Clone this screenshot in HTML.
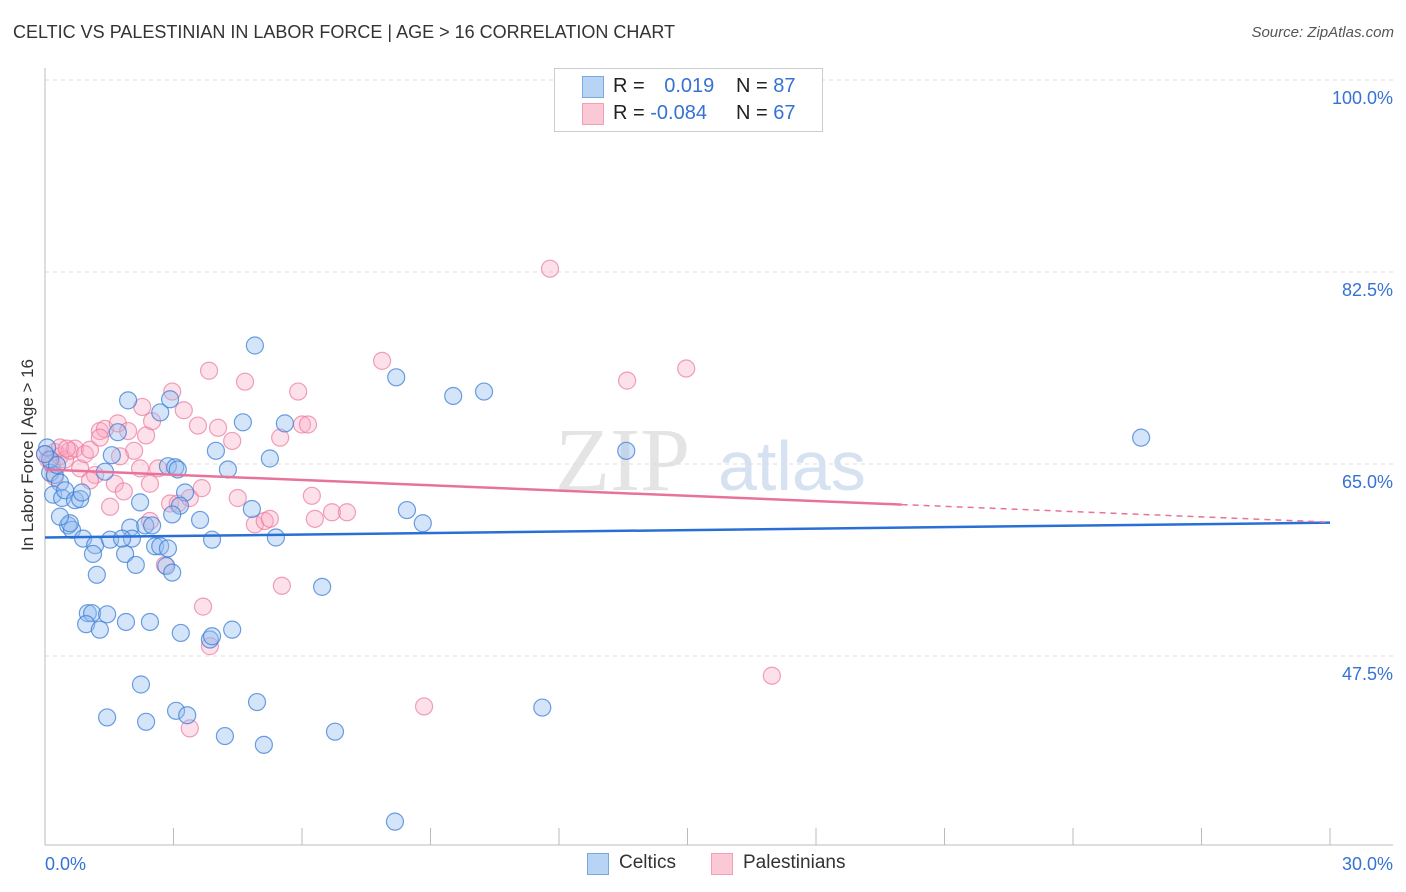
<!DOCTYPE html>
<html><head><meta charset="utf-8"><style>
body{margin:0;background:#fff;font-family:"Liberation Sans",sans-serif;}
#wrap{position:relative;width:1406px;height:892px;}
.t{position:absolute;white-space:nowrap}
</style></head><body><div id="wrap">
<div class="t" style="left:13px;top:22px;font-size:18px;color:#333">CELTIC VS PALESTINIAN IN LABOR FORCE | AGE &gt; 16 CORRELATION CHART</div>
<div class="t" style="right:12px;top:24px;font-size:15px;color:#555;font-style:italic">Source: ZipAtlas.com</div>
<div class="t" style="left:28px;top:455px;font-size:17px;color:#333;transform:translate(-50%,-50%) rotate(-90deg)">In Labor Force | Age &gt; 16</div>
<svg id="svg" width="1406" height="892" style="position:absolute;left:0;top:0">
<text x="555" y="490" font-size="90" fill="#e4e4e4" font-family="Liberation Serif">ZIP</text>
<text x="718" y="490" font-size="70" fill="#d6e2f2" font-family="Liberation Sans">atlas</text>
</svg>
<div style="position:absolute;left:554px;top:68px;width:267px;height:62px;border:1px solid #ccc;background:#fff;font-size:20px;color:#222">
<div style="position:absolute;left:27px;top:7px;width:20px;height:20px;background:#b8d4f5;border:1px solid #7aa8e0"></div>
<div class="t" style="left:58px;top:6px">R = <span style="color:#3572d4;margin-left:14px">0.019</span></div>
<div class="t" style="left:181px;top:6px">N = <span style="color:#3572d4">87</span></div>
<div style="position:absolute;left:27px;top:34px;width:20px;height:20px;background:#fbc8d6;border:1px solid #f0a0b8"></div>
<div class="t" style="left:58px;top:33px">R = <span style="color:#3572d4">-0.084</span></div>
<div class="t" style="left:181px;top:33px">N = <span style="color:#3572d4">67</span></div>
</div>
<div>
<div style="position:absolute;left:587px;top:853px;width:20px;height:20px;background:#b8d4f5;border:1px solid #7aa8e0"></div>
<div class="t" style="left:619px;top:852px;font-size:19px;color:#333">Celtics</div>
<div style="position:absolute;left:711px;top:853px;width:20px;height:20px;background:#fbc8d6;border:1px solid #f0a0b8"></div>
<div class="t" style="left:743px;top:852px;font-size:19px;color:#333">Palestinians</div>
</div>
</div>
<script>
const xTicks=[0,30];
const yTicks=[47.5,65,82.5,100];
const blueX=[0.05,0.12,0.23,0.35,0.19,0.40,0.47,0.70,0.82,0.86,0.54,0.63,0.58,0.89,1.17,1.12,1.21,1.00,1.10,0.96,1.28,1.45,1.89,2.45,1.40,1.56,1.70,1.94,2.69,2.92,1.52,1.87,1.99,2.03,2.12,2.22,2.34,2.50,2.57,2.69,2.83,2.87,2.97,2.87,3.04,3.27,3.15,3.62,3.90,3.99,4.27,4.62,4.90,4.83,5.25,5.39,5.60,6.47,3.17,3.85,4.37,3.90,2.24,1.45,2.36,3.06,3.32,4.20,4.95,5.11,6.77,8.20,9.53,10.25,8.45,8.82,8.17,11.61,13.57,25.59,1.80,0.12,0.28,0.00,0.35,3.10,2.97];
const blueY=[66.5,64.2,64.0,63.3,62.2,61.9,62.6,61.7,61.8,62.4,59.4,59.0,59.6,58.2,57.6,56.8,54.9,51.4,51.4,50.4,49.9,51.3,50.6,50.6,64.3,65.8,67.9,70.8,69.7,70.9,58.1,56.8,59.2,58.2,55.8,61.5,59.4,59.4,57.5,57.5,55.7,57.3,55.1,64.8,64.7,62.4,61.2,59.9,58.1,66.2,64.5,68.8,75.8,60.9,65.5,58.3,68.7,53.8,49.6,49.0,49.9,49.3,44.9,41.9,41.5,42.5,42.1,40.2,43.3,39.4,40.6,72.9,71.2,71.6,60.8,59.6,32.4,42.8,66.2,67.4,58.2,65.4,64.9,65.9,60.2,64.5,60.4];
const pinkX=[0.00,0.07,0.16,0.23,0.35,0.47,0.58,0.70,0.82,0.93,1.05,1.17,1.28,1.40,1.52,1.63,1.70,1.84,1.94,2.08,2.22,2.27,2.36,2.45,2.50,2.64,2.80,2.92,2.97,3.10,3.24,3.38,3.57,3.66,3.83,4.04,4.37,4.50,4.67,4.90,5.13,5.25,5.49,5.53,5.91,6.00,6.14,6.23,6.30,6.70,7.05,7.87,8.85,11.79,13.59,14.97,16.97,3.69,3.85,3.38,0.35,0.51,0.23,1.28,1.75,1.05,2.45];
const pinkY=[65.9,65.4,65.0,66.1,65.7,65.4,66.2,66.4,64.6,65.9,66.3,64.0,68.0,68.2,61.1,63.2,68.7,62.5,68.0,66.2,64.6,70.2,67.6,63.2,68.9,64.6,55.8,61.4,71.6,61.4,69.9,61.9,68.5,62.8,73.5,68.3,67.1,61.9,72.5,59.5,59.8,60.0,67.4,53.9,71.6,68.6,68.6,62.1,60.0,60.6,60.6,74.4,42.9,82.8,72.6,73.7,45.7,52.0,48.4,40.9,66.5,66.4,63.8,67.4,65.7,63.5,59.8];
const X0=45,X1=1330,Y0=80,PY=10.971;
const sx=v=>X0+(v-xTicks[0])/(xTicks[1]-xTicks[0])*(X1-X0);
const sy=v=>Y0+(100-v)*PY;
const svg=document.getElementById('svg');const NS='http://www.w3.org/2000/svg';
function mk(t,a,p){const e=document.createElementNS(NS,t);for(const k in a)e.setAttribute(k,a[k]);(p||svg).appendChild(e);return e;}
yTicks.forEach(v=>{
 const l=mk('line',{x1:45,x2:1393,y1:sy(v),y2:sy(v),stroke:'#ddd','stroke-dasharray':'4,4'});
 
 
 const t=mk('text',{x:1393,y:sy(v)+24,'text-anchor':'end','font-size':18,fill:'#3572d4','font-family':'Liberation Sans'});
 t.textContent=v.toFixed(1)+'%';
 
 
});
const ax=mk('line',{x1:45,x2:45,y1:68,y2:845,stroke:'#bbb'});


const bx=mk('line',{x1:45,x2:1393,y1:845,y2:845,stroke:'#bbb'});


for(let i=0;i<=10;i++){const v=i*3;const tk=mk('line',{x1:sx(v),x2:sx(v),y1:828,y2:845,stroke:'#bbb'});
 
 }
[[xTicks[0],45,'start'],[xTicks[1],1393,'end']].forEach(([v,x,a])=>{const t=mk('text',{x:x,y:870,'text-anchor':a,'font-size':18,fill:'#3572d4','font-family':'Liberation Sans'});t.textContent=v.toFixed(1)+'%';
 
 });
function dots(xs,ys,fill,stroke,name){xs.forEach((x,i)=>{const c=mk('circle',{cx:sx(x),cy:sy(ys[i]),r:8.5,fill:fill,stroke:stroke,'stroke-width':1.2});
 
 });}
dots(pinkX,pinkY,'rgba(248,170,195,0.35)','rgba(235,120,155,0.7)','palestinian-point');
dots(blueX,blueY,'rgba(150,190,240,0.4)','rgba(60,125,215,0.75)','celtic-point');
const [ba,bb]=[58.3,0.045];
const bl=mk('line',{x1:sx(0),y1:sy(ba),x2:sx(30),y2:sy(ba+bb*30),stroke:'#2a6fd6','stroke-width':2.5});


const [pa,pb]=[64.5,-0.16];
const pl=mk('line',{x1:sx(0),y1:sy(pa),x2:sx(20),y2:sy(pa+pb*20),stroke:'#e8739a','stroke-width':2.5});


const pd=mk('line',{x1:sx(20),y1:sy(pa+pb*20),x2:sx(30),y2:sy(pa+pb*30),stroke:'#e8739a','stroke-width':1.5,'stroke-dasharray':'6,5'});


</script></body></html>
